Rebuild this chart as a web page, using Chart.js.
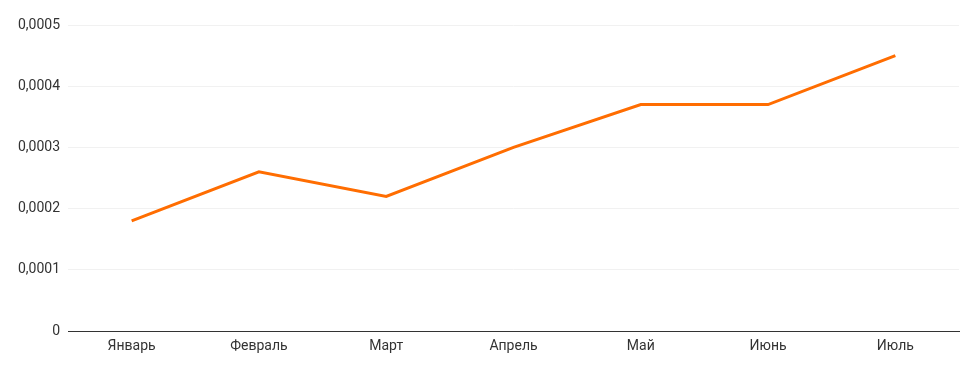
<!DOCTYPE html>
<html>
<head>
<meta charset="utf-8">
<script src="https://cdn.jsdelivr.net/npm/chart.js@4"></script>
<style>
  html, body { margin: 0; padding: 0; background: #fff; }
  #wrap { width: 979px; height: 371px; position: relative; }
</style>
</head>
<body>
<div id="wrap"><canvas id="myChart"></canvas></div>
<script>
const months = ['Январь', 'Февраль', 'Март', 'Апрель', 'Май', 'Июнь', 'Июль'];
const values = [0.00018, 0.00026, 0.00022, 0.0003, 0.00037, 0.00037, 0.00045];
const yMax = 0.0005;
const yStep = 0.0001;

const ctx = document.getElementById('myChart');

new Chart(ctx, {
  type: 'line',
  data: {
    labels: months,
    datasets: [{
      data: values,
      borderColor: '#ff6d01',
      borderWidth: 3,
      pointRadius: 0,
      tension: 0,
      fill: false
    }]
  },
  options: {
    responsive: true,
    maintainAspectRatio: false,
    animation: false,
    layout: { padding: { left: 0, top: 25, right: 20, bottom: 0 } },
    plugins: { legend: { display: false }, tooltip: { enabled: false } },
    scales: {
      x: {
        offset: true,
        grid: { display: false, drawTicks: false },
        border: { display: true, color: '#333', width: 1 },
        ticks: { color: '#333', font: { family: 'Roboto', size: 14 }, padding: 7, maxRotation: 0 },
        afterFit: (scale) => { scale.height = 40; }
      },
      y: {
        min: 0,
        max: yMax,
        grid: { color: '#f1f1f1', drawTicks: false },
        border: { display: false },
        ticks: {
          stepSize: yStep,
          color: '#333',
          font: { family: 'Roboto', size: 14 },
          padding: 8,
          callback: (v) => v === 0 ? '0' : v.toFixed(4).replace('.', ',')
        },
        afterFit: (scale) => { scale.width = 68; }
      }
    }
  }
});
</script>
</body>
</html>
